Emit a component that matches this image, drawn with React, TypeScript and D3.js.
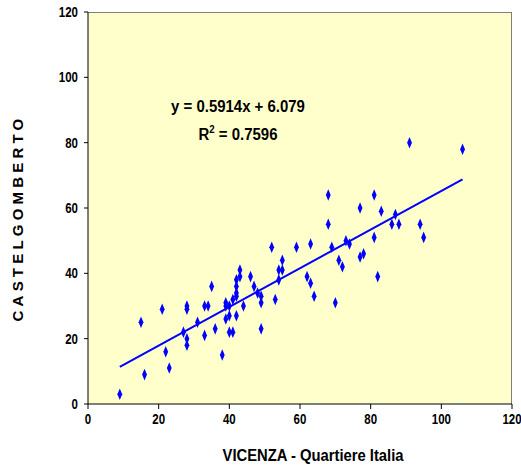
import React from 'react'
import * as d3 from 'd3'

const vicenza = [9, 15, 16, 21, 22, 23, 27, 28, 28, 28, 28, 31, 33, 34, 33, 35, 36, 38, 39, 39, 40, 39, 40, 42, 40, 41, 41, 42, 42, 42, 42, 43, 43, 44, 46, 47, 48, 49, 49, 49, 52, 53, 54, 54, 55, 55, 59, 62, 63, 63, 64, 68, 68, 69, 70, 71, 72, 73, 74, 77, 77, 78, 81, 81, 82, 83, 86, 87, 88, 91, 94, 95, 106]
const castelgomberto = [3, 25, 9, 29, 16, 11, 22, 30, 29, 20, 18, 25, 30, 30, 21, 36, 23, 15, 31, 30, 30, 26, 27, 27, 22, 22, 32, 33, 34, 36, 38, 39, 41, 30, 39, 36, 34, 33, 31, 23, 48, 32, 38, 41, 41, 44, 48, 39, 37, 49, 33, 64, 55, 48, 31, 44, 42, 50, 49, 60, 45, 46, 64, 51, 39, 59, 55, 58, 55, 80, 55, 51, 78]
const axisTicks = [0, 20, 40, 60, 80, 100, 120]
const slope = 0.5914
const intercept = 6.079
const equationLabel = 'y = 0.5914x + 6.079'
const r2Value = '0.7596'

const width = 521
const height = 468
const margin = {left: 88, right: 9, top: 12, bottom: 64}
const font = 'Arial, "Liberation Sans", sans-serif'
const narrow = 0.82

export default function App() {
    const innerWidth = width - margin.left - margin.right
    const innerHeight = height - margin.top - margin.bottom

    const xScale = d3.scaleLinear().domain([0, 120]).range([0, innerWidth])
    const yScale = d3.scaleLinear().domain([0, 120]).range([innerHeight, 0])

    const points = vicenza.map((x, i) => ({x, y: castelgomberto[i]}))
    const [xMin, xMax] = d3.extent(vicenza) as [number, number]
    const trend = d3.line<number>()
        .x(d => xScale(d))
        .y(d => yScale(slope * d + intercept))

    const diamond = d3.symbol().type(d3.symbolDiamond).size(32)()

    return (
        <svg width={width} height={height} style={{position: 'absolute', left: 0, top: 0}} fontFamily={font} fontWeight="bold">
            <rect width={width} height={height} fill="white" />
            <g transform={`translate(${margin.left},${margin.top})`}>
                <rect width={innerWidth} height={innerHeight} fill="#FFFFCC" />
                <line x1={0} x2={innerWidth} y1={0.5} y2={0.5} stroke="#808080" />
                <line x1={innerWidth - 0.5} x2={innerWidth - 0.5} y1={0} y2={innerHeight} stroke="#808080" />
                <path d={trend([xMin, xMax]) || ''} fill="none" stroke="#0000FF" strokeWidth={2} />
                {points.map((d, i) => (
                    <path key={i} d={diamond || ''} transform={`translate(${xScale(d.x)},${yScale(d.y)}) scale(0.8,1.1)`} fill="#0000FF" />
                ))}
                <line x1={0} x2={0} y1={0} y2={innerHeight} stroke="black" />
                <line x1={0} x2={innerWidth} y1={innerHeight} y2={innerHeight} stroke="black" />
                {axisTicks.map((t, i) => (
                    <g key={'y' + i} transform={`translate(0,${yScale(t)})`}>
                        <line x1={-4} x2={0} stroke="black" />
                        <text transform={`translate(-10,0) scale(${narrow},1)`} dy=".36em" textAnchor="end" fontSize={14}>{t}</text>
                    </g>
                ))}
                {axisTicks.map((t, i) => (
                    <g key={'x' + i} transform={`translate(${xScale(t)},${innerHeight})`}>
                        <line y1={0} y2={5} stroke="black" />
                        <text transform={`translate(0,20) scale(${narrow},1)`} textAnchor="middle" fontSize={14}>{t}</text>
                    </g>
                ))}
                <text transform="translate(150,100) scale(0.88,1)" textAnchor="middle" fontSize={17}>{equationLabel}</text>
                <text transform="translate(150,128) scale(0.88,1)" textAnchor="middle" fontSize={17}>
                    R<tspan dy={-7} fontSize={11}>2</tspan><tspan dy={7}>{' = ' + r2Value}</tspan>
                </text>
            </g>
            <text transform="translate(313,461) scale(0.87,1)" textAnchor="middle" fontSize={17}>VICENZA - Quartiere Italia</text>
            <text transform="translate(23,218) rotate(-90)" textAnchor="middle" fontSize={15} letterSpacing={4.2}>CASTELGOMBERTO</text>
        </svg>
    )
}
